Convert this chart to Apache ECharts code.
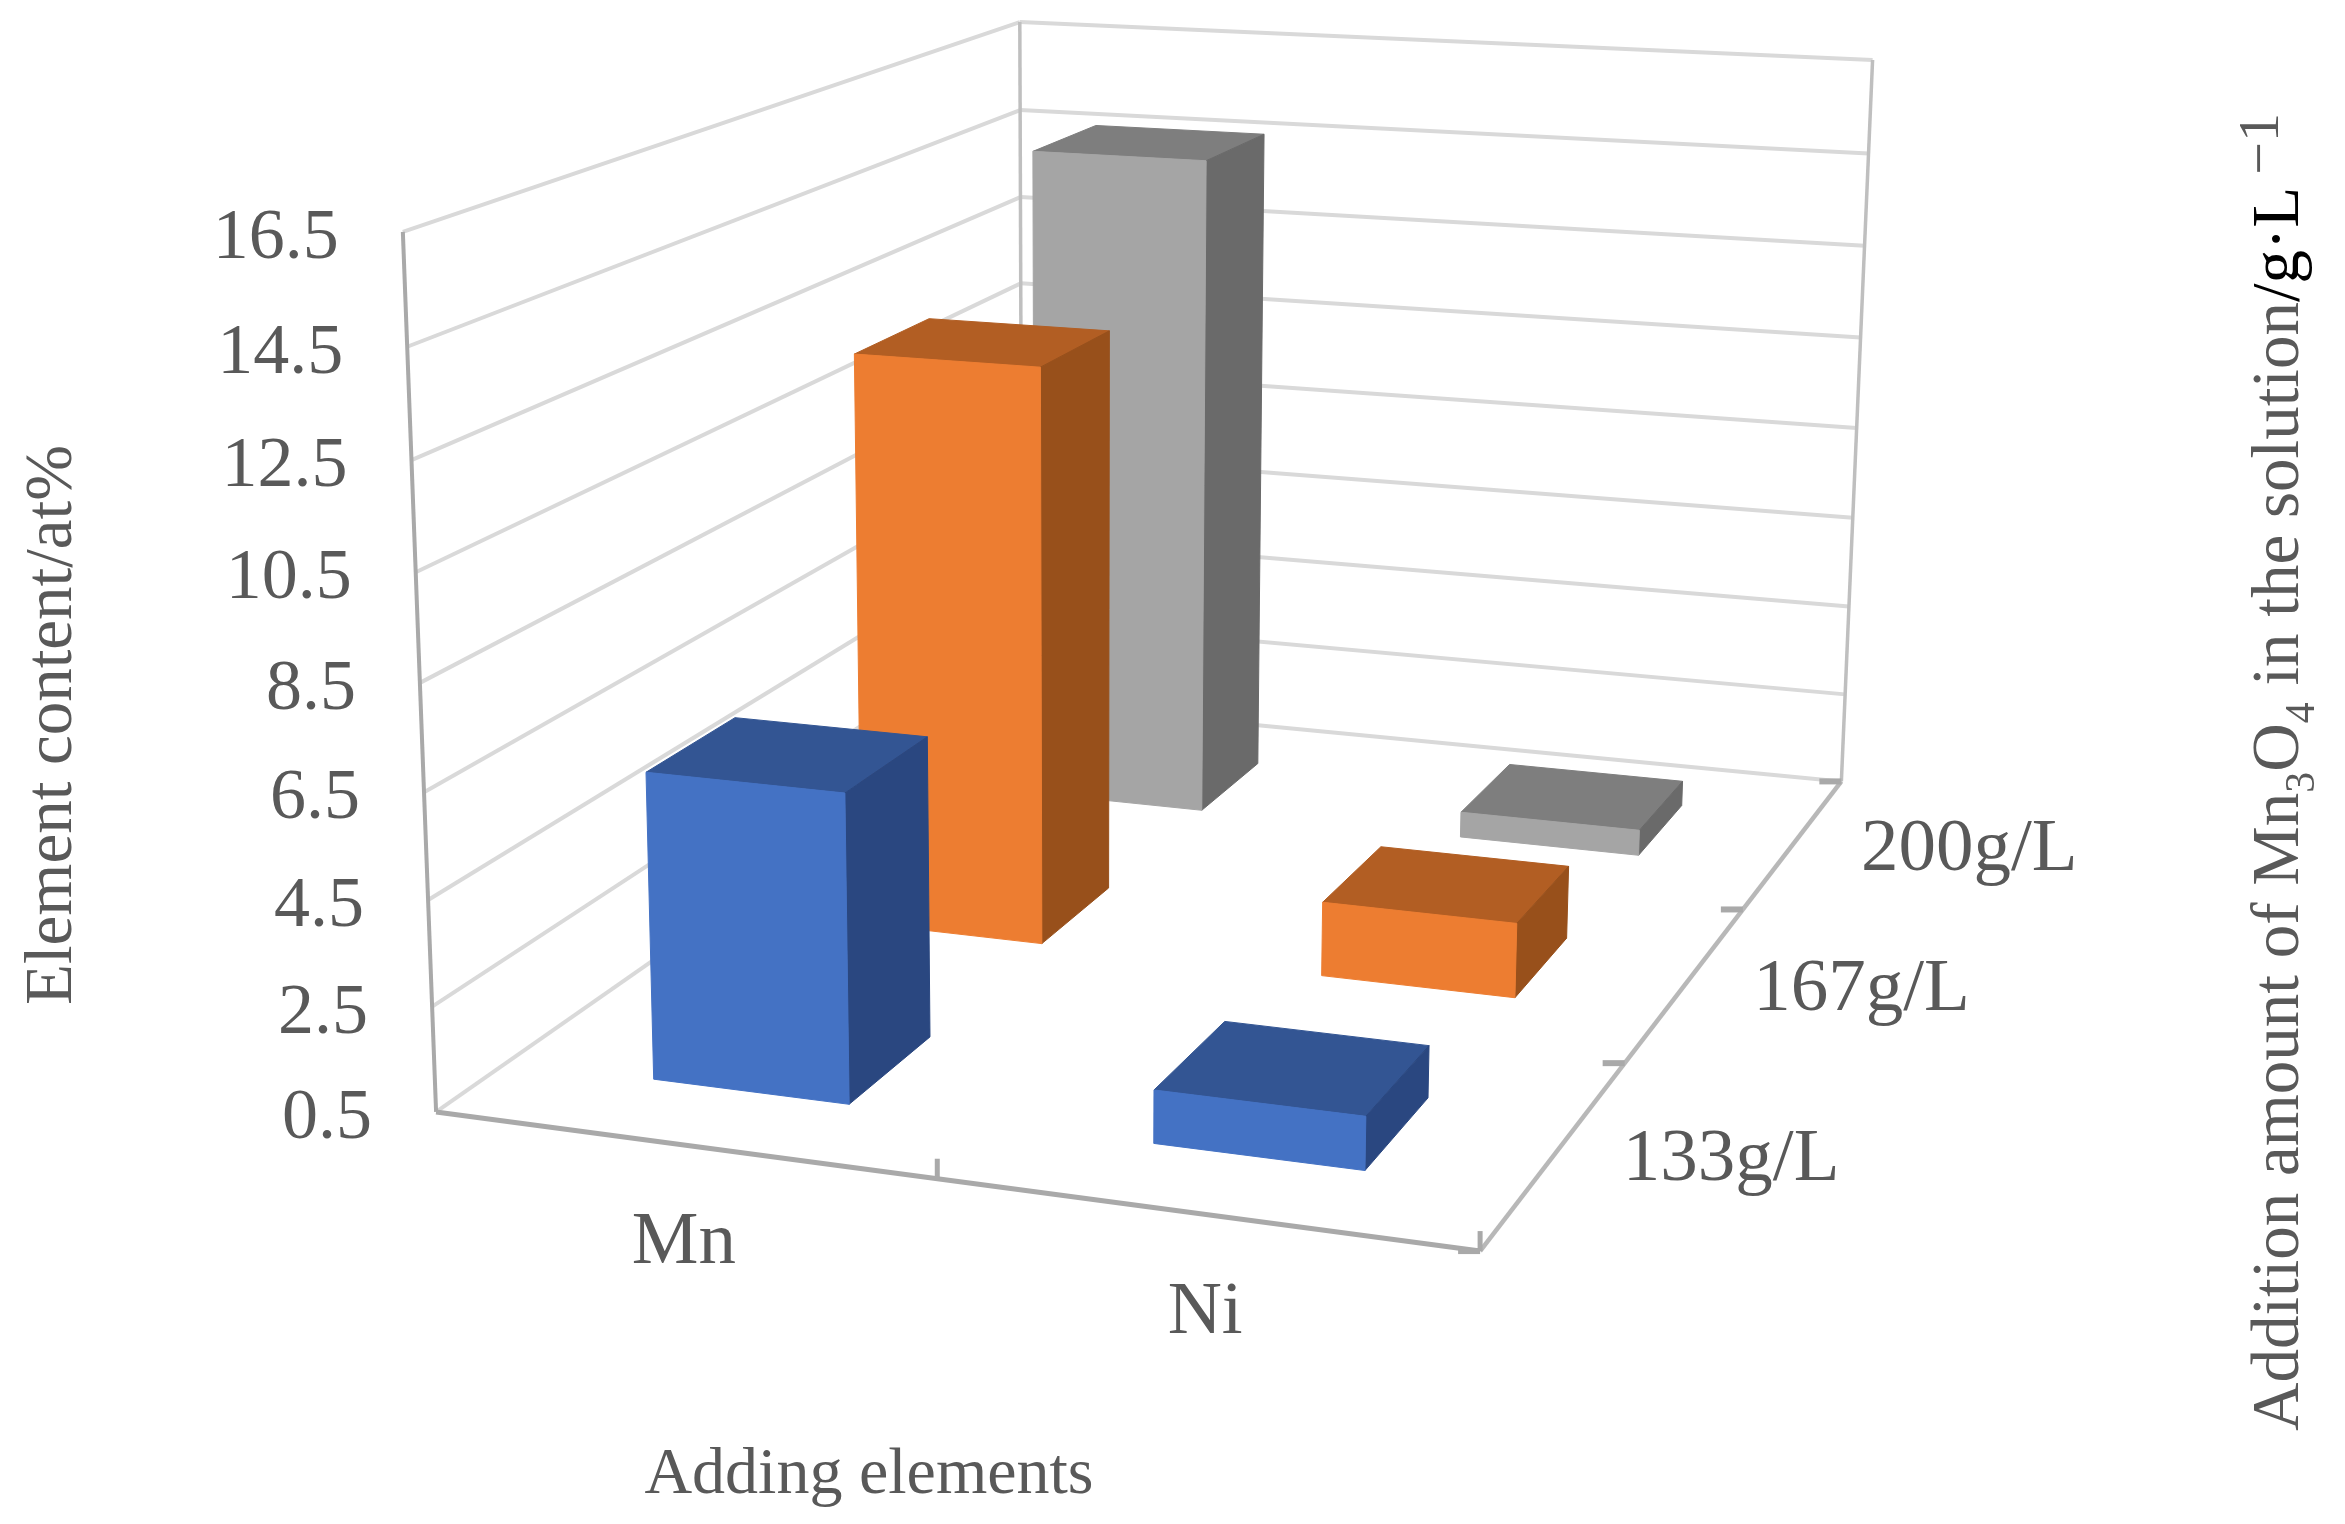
<!DOCTYPE html>
<html><head><meta charset="utf-8">
<style>html,body{margin:0;padding:0;background:#fff}#c{width:2345px;height:1524px}</style>
<script src="https://cdn.jsdelivr.net/npm/echarts@6/dist/echarts.min.js"></script>
</head><body><div id="c"></div>
<script>
// ---- data ----
var categories = ['Mn', 'Ni'];
var depthLabels = ['133g/L', '167g/L', '200g/L'];
var values133 = [6.36, 1.5];
var values167 = [12.18, 2.0];
var values200 = [14.72, 1.05];
var valueTicks = [0.5, 2.5, 4.5, 6.5, 8.5, 10.5, 12.5, 14.5, 16.5];

// ---- perspective calibration: [u, v, w, screenX, screenY] ----
var frame = [
  [0,0,0,437,1110],[1,0,0,1480,1253],[1,1,0,1842,779],[0,1,0,1021,705],
  [0,0,1,402,232],[0,1,1,1021,21],[1,1,1,1872,61]
];
function solve(A,b){var n=b.length;for(var i=0;i<n;i++){var m=i;for(var r=i+1;r<n;r++)if(Math.abs(A[r][i])>Math.abs(A[m][i]))m=r;
  var t=A[i];A[i]=A[m];A[m]=t;t=b[i];b[i]=b[m];b[m]=t;
  for(r=i+1;r<n;r++){var f=A[r][i]/A[i][i];for(var c=i;c<n;c++)A[r][c]-=f*A[i][c];b[r]-=f*b[i];}}
  var x=[];for(i=n-1;i>=0;i--){var s=b[i];for(c=i+1;c<n;c++)s-=A[i][c]*x[c];x[i]=s/A[i][i];}return x;}
var M=(function(){var R=[],Y=[];frame.forEach(function(p){var u=p[0],v=p[1],w=p[2],x=p[3],y=p[4];
  R.push([u,v,w,1,0,0,0,0,-x*u,-x*v,-x*w]);Y.push(x);R.push([0,0,0,0,u,v,w,1,-y*u,-y*v,-y*w]);Y.push(y);});
  var n=11,A=[],b=[];for(var i=0;i<n;i++){A.push([]);b[i]=0;for(var j=0;j<n;j++){var s=0;for(var r=0;r<R.length;r++)s+=R[r][i]*R[r][j];A[i][j]=s;}
  for(r=0;r<R.length;r++)b[i]+=R[r][i]*Y[r];}return solve(A,b);})();
function P(u,v,w){var d=M[8]*u+M[9]*v+M[10]*w+1;return [(M[0]*u+M[1]*v+M[2]*w+M[3])/d,(M[4]*u+M[5]*v+M[6]*w+M[7])/d];}

// hidden grid supplies the category and value scales
var G={left:100,top:100,width:1000,height:1000};
function unit(api,cat,val){var c=api.coord([cat,val]);return [(c[0]-G.left)/G.width,(G.top+G.height-c[1])/G.height];}

var BLEFT=0.0985,BRIGHT=0.1015,BFRONT=0.068,BBACK=0.064,FONT='"Liberation Serif","Times New Roman",serif',TXT='#595959';
function line(a,b,color,width){return {type:'line',shape:{x1:a[0],y1:a[1],x2:b[0],y2:b[1]},style:{stroke:color,lineWidth:width,lineCap:'butt'},silent:true};}
function label(t,x,y,size,align){return {type:'text',style:{text:t,x:x,y:y,fill:TXT,font:size+'px '+FONT,textAlign:align||'center',textVerticalAlign:'middle'},silent:true};}
function poly(pts,color){return {type:'polygon',shape:{points:pts},style:{fill:color,stroke:color,lineWidth:1},silent:true};}

function wallRender(params,api){
  var val=api.value(0),w=unit(api,0,val)[1],kids=[];
  kids.push(line(P(0,0,w),P(0,1,w),'#D9D9D9',4));
  kids.push(line(P(0,1,w),P(1,1,w),'#D9D9D9',4));
  var a=P(0,0,w);
  kids.push(label(String(val.toFixed(1)),a[0]-64,a[1]+7,72,'right'));
  return {type:'group',children:kids};
}
function frameRender(params,api){
  var kids=[],ax='#A9A9A9';
  kids.push(line(P(0,0,0),P(0,0,1),'#A9A9A9',4));
  kids.push(line(P(0,1,0),P(0,1,1),'#BFBFBF',3.5));
  kids.push(line(P(1,1,0),P(1,1,1),'#BFBFBF',3.5));
  kids.push(line(P(0,0,0),P(1,0,0),ax,5));
  kids.push(line(P(1,0,0),P(1,1,0),'#B8B8B8',4.5));
  [0.5,1].forEach(function(u){var a=P(u,0,0);kids.push(line(a,[a[0],a[1]-20],ax,5));});
  [0,1/3,2/3,1].forEach(function(v){var a=P(1,v,0);kids.push(line(a,[a[0]-22,a[1]],ax,6));});
  return {type:'group',children:kids};
}
function catRender(params,api){
  var u=unit(api,api.value(0),0.5)[0],a=P(u,0,0);
  return label(categories[api.value(0)],a[0]+2,a[1]+99,75);
}
function depthRender(params,api){
  var i=api.value(0),a=P(1,(i+0.5)/3,0);
  return label(depthLabels[i],a[0]+175,a[1]+8,75);
}
function barRender(row,front,top,side){return function(params,api){
  var cat=api.value(0),val=api.value(1),p=unit(api,cat,val),u=p[0],h=p[1],v=(row+0.5)/3;
  var u0=u-BLEFT,u1=u+BRIGHT,v0=v-BFRONT,v1=v+BBACK;
  return {type:'group',children:[
    poly([P(u0,v0,h),P(u1,v0,h),P(u1,v1,h),P(u0,v1,h)],top),
    poly([P(u1,v0,0),P(u1,v1,0),P(u1,v1,h),P(u1,v0,h)],side),
    poly([P(u0,v0,0),P(u1,v0,0),P(u1,v0,h),P(u0,v0,h)],front)
  ]};
};}
function rows(a){return a.map(function(x,i){return [i,x];});}
var idx=function(a){return a.map(function(_,i){return [i];});};
function base(name,data,fn,z){return {type:'custom',name:name,coordinateSystem:'cartesian2d',data:data,renderItem:fn,z:z,silent:true,animation:false,clip:false};}

var chart=echarts.init(document.getElementById('c'),null,{renderer:'canvas'});
chart.setOption({
  animation:false,backgroundColor:'#ffffff',
  tooltip:{show:false},
  grid:G,
  xAxis:{type:'category',data:categories,show:false},
  yAxis:{type:'value',min:0.5,max:16.5,show:false},
  series:[
    base('grid',valueTicks.map(function(t){return [t];}),wallRender,1),
    base('frame',[[0]],frameRender,2),
    base('cats',idx(categories),catRender,2),
    base('depth',idx(depthLabels),depthRender,2),
    base(depthLabels[2],rows(values200),barRender(2,'#A5A5A5','#7E7E7E','#6A6A6A'),3),
    base(depthLabels[1],rows(values167),barRender(1,'#ED7D31','#B25E23','#98501B'),4),
    base(depthLabels[0],rows(values133),barRender(0,'#4472C4','#335593','#2A4780'),5)
  ],
  graphic:[
    {type:'text',x:869,y:1476,silent:true,style:{text:'Adding elements',fill:TXT,font:'66px '+FONT,textAlign:'center',textVerticalAlign:'middle'}},
    {type:'text',x:53,y:725,rotation:Math.PI/2,silent:true,style:{text:'Element content/at%',fill:TXT,font:'67px '+FONT,textAlign:'center',textVerticalAlign:'middle'}},
    {type:'text',x:2280,y:772,rotation:Math.PI/2,silent:true,style:{
      text:'{t|Addition amount of Mn}{s|3}{t|O}{s|4}{t| in the solution}{k|/g·L}{u|−1}',
      textAlign:'center',textVerticalAlign:'middle',
      rich:{
        t:{fill:TXT,font:'67px '+FONT,lineHeight:100,verticalAlign:'middle'},
        k:{fill:'#000',font:'67px '+FONT,lineHeight:100,verticalAlign:'middle'},
        s:{fill:TXT,font:'42px '+FONT,lineHeight:100,verticalAlign:'bottom',padding:[0,0,6,0]},
        u:{fill:TXT,font:'58px '+FONT,lineHeight:100,verticalAlign:'top',padding:[4,0,0,12]}
      }}}
  ]
});
</script></body></html>
